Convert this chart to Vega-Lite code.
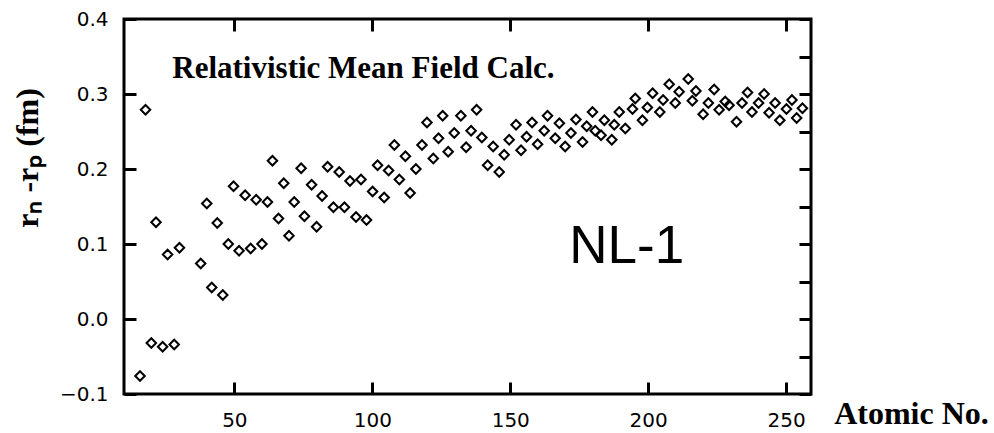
{
  "$schema": "https://vega.github.io/schema/vega-lite/v6.json",
  "autosize": {"type": "none"},
  "padding": {"left": 124, "top": 19, "right": 183, "bottom": 39},
  "width": 687,
  "height": 375,
  "background": "white",
  "config": {
    "view": {"stroke": "black", "strokeWidth": 3},
    "axis": {
      "grid": false,
      "domain": false,
      "labelColor": "black",
      "labelFont": "DejaVu Sans",
      "labelFontSize": 20
    }
  },
  "resolve": {"scale": {"x": "independent", "y": "independent"}, "axis": {"x": "independent", "y": "independent"}},
  "layer": [
    {
      "data": {"values": [
        {"Z": 15.8, "d": -0.076}, {"Z": 17.8, "d": 0.279}, {"Z": 19.9, "d": -0.032}, {"Z": 21.6, "d": 0.129},
        {"Z": 24.0, "d": -0.037}, {"Z": 25.8, "d": 0.086}, {"Z": 28.2, "d": -0.034}, {"Z": 30.1, "d": 0.095},
        {"Z": 37.8, "d": 0.074}, {"Z": 40.0, "d": 0.154}, {"Z": 41.8, "d": 0.042}, {"Z": 43.8, "d": 0.128},
        {"Z": 45.8, "d": 0.032}, {"Z": 47.8, "d": 0.100}, {"Z": 49.7, "d": 0.177}, {"Z": 51.7, "d": 0.091},
        {"Z": 53.9, "d": 0.165}, {"Z": 55.9, "d": 0.094}, {"Z": 57.9, "d": 0.159}, {"Z": 60.0, "d": 0.100},
        {"Z": 62.0, "d": 0.156}, {"Z": 63.8, "d": 0.211}, {"Z": 66.0, "d": 0.134}, {"Z": 67.9, "d": 0.181},
        {"Z": 69.8, "d": 0.111}, {"Z": 71.7, "d": 0.156}, {"Z": 74.2, "d": 0.201}, {"Z": 75.4, "d": 0.137},
        {"Z": 78.0, "d": 0.179}, {"Z": 79.8, "d": 0.123}, {"Z": 81.8, "d": 0.164}, {"Z": 83.8, "d": 0.203},
        {"Z": 85.9, "d": 0.149}, {"Z": 88.0, "d": 0.196}, {"Z": 89.9, "d": 0.149}, {"Z": 91.9, "d": 0.184},
        {"Z": 94.1, "d": 0.136}, {"Z": 95.9, "d": 0.186}, {"Z": 97.9, "d": 0.132}, {"Z": 100.1, "d": 0.170},
        {"Z": 101.9, "d": 0.205}, {"Z": 104.3, "d": 0.162}, {"Z": 105.9, "d": 0.198}, {"Z": 108.0, "d": 0.232},
        {"Z": 109.8, "d": 0.186}, {"Z": 112.0, "d": 0.217}, {"Z": 113.7, "d": 0.168}, {"Z": 115.8, "d": 0.200},
        {"Z": 118.0, "d": 0.232}, {"Z": 119.8, "d": 0.262}, {"Z": 122.1, "d": 0.214}, {"Z": 124.0, "d": 0.241},
        {"Z": 125.5, "d": 0.271}, {"Z": 127.5, "d": 0.223}, {"Z": 129.7, "d": 0.248}, {"Z": 132.1, "d": 0.271},
        {"Z": 134.0, "d": 0.229}, {"Z": 135.8, "d": 0.251}, {"Z": 137.8, "d": 0.279}, {"Z": 139.7, "d": 0.242},
        {"Z": 141.8, "d": 0.205}, {"Z": 143.8, "d": 0.230}, {"Z": 146.0, "d": 0.196}, {"Z": 147.8, "d": 0.219},
        {"Z": 149.6, "d": 0.239}, {"Z": 152.1, "d": 0.259}, {"Z": 153.9, "d": 0.225}, {"Z": 155.9, "d": 0.243},
        {"Z": 157.9, "d": 0.262}, {"Z": 159.9, "d": 0.233}, {"Z": 162.3, "d": 0.251}, {"Z": 163.5, "d": 0.271},
        {"Z": 166.3, "d": 0.241}, {"Z": 167.8, "d": 0.261}, {"Z": 169.9, "d": 0.230}, {"Z": 172.0, "d": 0.248},
        {"Z": 173.8, "d": 0.266}, {"Z": 176.2, "d": 0.236}, {"Z": 177.7, "d": 0.257}, {"Z": 179.8, "d": 0.276},
        {"Z": 180.8, "d": 0.251}, {"Z": 182.9, "d": 0.245}, {"Z": 184.1, "d": 0.265}, {"Z": 186.8, "d": 0.239},
        {"Z": 187.7, "d": 0.259}, {"Z": 189.5, "d": 0.276}, {"Z": 191.7, "d": 0.254}, {"Z": 194.3, "d": 0.280},
        {"Z": 195.3, "d": 0.294}, {"Z": 197.9, "d": 0.265}, {"Z": 199.7, "d": 0.282}, {"Z": 201.6, "d": 0.301},
        {"Z": 204.2, "d": 0.276}, {"Z": 205.4, "d": 0.292}, {"Z": 207.6, "d": 0.313}, {"Z": 209.8, "d": 0.288},
        {"Z": 211.2, "d": 0.303}, {"Z": 214.5, "d": 0.320}, {"Z": 216.0, "d": 0.291}, {"Z": 217.3, "d": 0.304},
        {"Z": 219.9, "d": 0.273}, {"Z": 221.8, "d": 0.288}, {"Z": 223.9, "d": 0.306}, {"Z": 225.7, "d": 0.279},
        {"Z": 227.9, "d": 0.290}, {"Z": 229.3, "d": 0.285}, {"Z": 232.0, "d": 0.263}, {"Z": 234.0, "d": 0.288},
        {"Z": 236.0, "d": 0.302}, {"Z": 237.6, "d": 0.276}, {"Z": 240.0, "d": 0.288}, {"Z": 242.0, "d": 0.300},
        {"Z": 243.8, "d": 0.275}, {"Z": 246.0, "d": 0.288}, {"Z": 247.7, "d": 0.265}, {"Z": 250.1, "d": 0.280},
        {"Z": 252.1, "d": 0.292}, {"Z": 253.8, "d": 0.268}, {"Z": 255.9, "d": 0.281}
      ]},
      "mark": {"type": "point", "shape": "diamond", "filled": false, "size": 90, "stroke": "black", "strokeWidth": 2, "opacity": 1},
      "encoding": {
        "x": {
          "field": "Z", "type": "quantitative",
          "scale": {"domain": [10, 259], "nice": false, "zero": false},
          "axis": {
            "orient": "bottom", "values": [50, 100, 150, 200, 250],
            "ticks": true, "tickSize": -12, "tickWidth": 3, "tickColor": "black", "labelPadding": 28,
            "title": null
          }
        },
        "y": {
          "field": "d", "type": "quantitative",
          "scale": {"domain": [-0.1, 0.4], "nice": false, "zero": false},
          "axis": {
            "orient": "left", "values": [-0.1, 0, 0.1, 0.2, 0.3, 0.4], "format": ".1f",
            "ticks": true, "tickSize": -12, "tickWidth": 3, "tickColor": "black", "labelPadding": 28,
            "title": null
          }
        }
      }
    },
    {
      "data": {"values": [{}]},
      "mark": {"type": "text", "text": "NL-1", "font": "Liberation Sans", "fontSize": 53, "align": "left", "baseline": "alphabetic", "color": "black"},
      "encoding": {
        "x": {
          "datum": 171.4, "type": "quantitative",
          "scale": {"domain": [10, 259], "nice": false, "zero": false},
          "axis": {"orient": "top", "values": [50, 100, 150, 200, 250], "ticks": true, "tickSize": -12, "tickWidth": 3, "tickColor": "black", "labels": false, "title": null}
        },
        "y": {
          "datum": 0.075, "type": "quantitative",
          "scale": {"domain": [-0.1, 0.4], "nice": false, "zero": false},
          "axis": {"orient": "right", "values": [-0.1, -0.05, 0, 0.05, 0.1, 0.15, 0.2, 0.25, 0.3, 0.35, 0.4], "ticks": true, "tickSize": -12, "tickWidth": 3, "tickColor": "black", "labels": false, "title": null}
        }
      }
    },
    {
      "data": {"values": [{}]},
      "mark": {"type": "text", "text": "Relativistic Mean Field Calc.", "font": "Liberation Serif", "fontWeight": "bold", "fontSize": 31, "align": "left", "baseline": "alphabetic", "color": "black"},
      "encoding": {
        "x": {"datum": 27.5, "type": "quantitative", "scale": {"domain": [10, 259], "nice": false, "zero": false}, "axis": null},
        "y": {"datum": 0.3217, "type": "quantitative", "scale": {"domain": [-0.1, 0.4], "nice": false, "zero": false}, "axis": null}
      }
    },
    {
      "data": {"values": [{}]},
      "mark": {"type": "text", "text": "Atomic No.", "font": "Liberation Serif", "fontWeight": "bold", "fontSize": 32, "align": "left", "baseline": "alphabetic", "color": "black"},
      "encoding": {
        "x": {"datum": 267.4, "type": "quantitative", "scale": {"domain": [10, 259], "nice": false, "zero": false}, "axis": null},
        "y": {"datum": -0.14, "type": "quantitative", "scale": {"domain": [-0.1, 0.4], "nice": false, "zero": false}, "axis": null}
      }
    },
    {
      "data": {"values": [{}]},
      "mark": {"type": "text", "text": "r\u2099 -r\u209a (fm)", "font": "Liberation Serif", "fontWeight": "bold", "fontSize": 32, "angle": 270, "align": "center", "baseline": "alphabetic", "color": "black"},
      "encoding": {
        "x": {"datum": -21.0, "type": "quantitative", "scale": {"domain": [10, 259], "nice": false, "zero": false}, "axis": null},
        "y": {"datum": 0.2147, "type": "quantitative", "scale": {"domain": [-0.1, 0.4], "nice": false, "zero": false}, "axis": null}
      }
    }
  ]
}
